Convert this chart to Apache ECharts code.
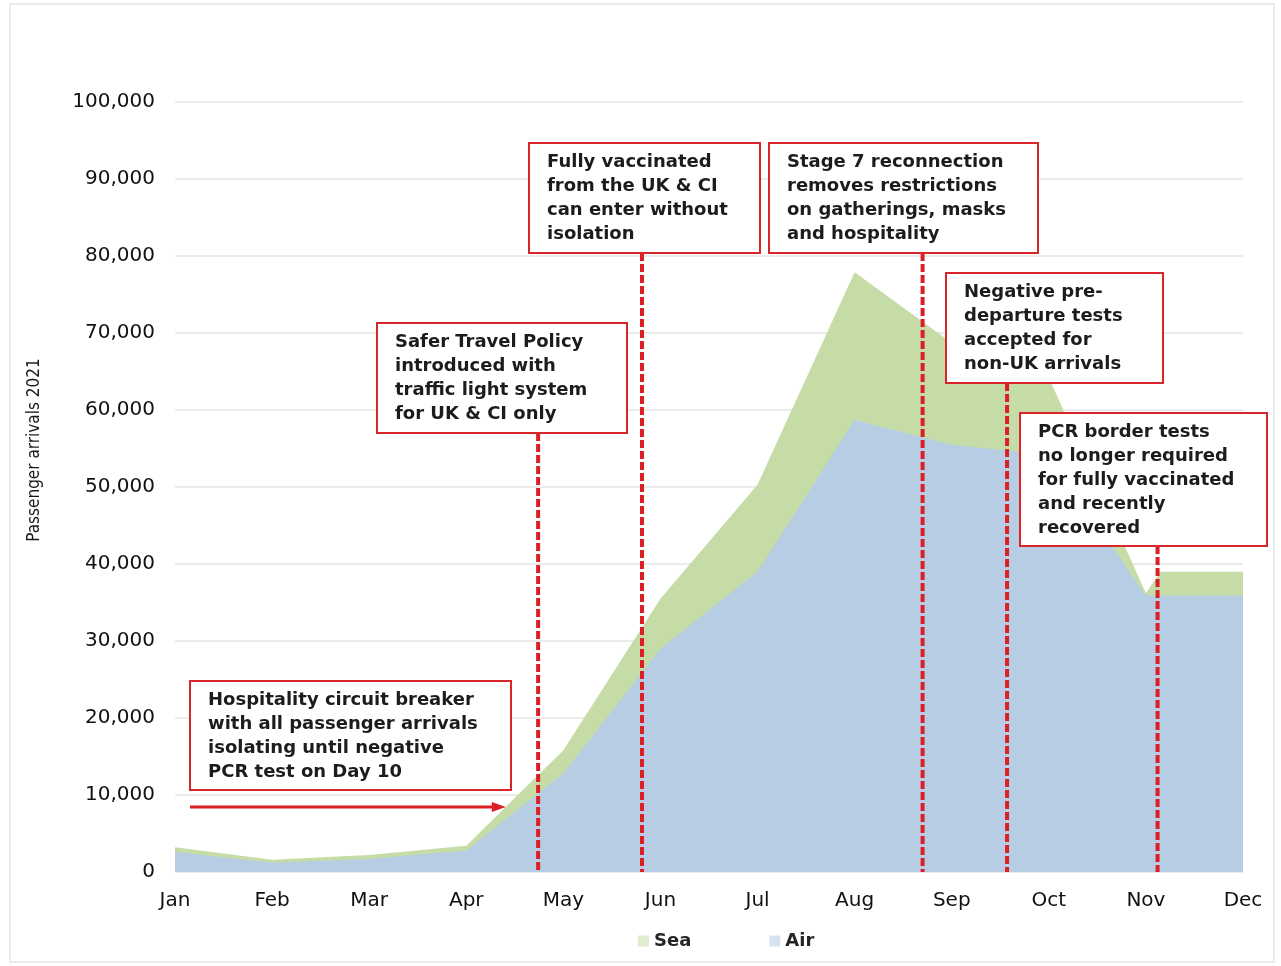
<!DOCTYPE html>
<html>
<head>
<meta charset="utf-8">
<title>Passenger arrivals 2021</title>
<script src="https://cdn.jsdelivr.net/npm/echarts@6/dist/echarts.min.js"></script>
<style>
  html, body { margin: 0; padding: 0; background: #ffffff; }
  #chart { width: 1281px; height: 966px; }
</style>
</head>
<body>
<div id="chart"></div>
<script>
// Month labels along the x axis (one per position 0..11)
const months = ['Jan', 'Feb', 'Mar', 'Apr', 'May', 'Jun', 'Jul', 'Aug', 'Sep', 'Oct', 'Nov', 'Dec'];

// Sample positions in months from Jan (0) to Dec (11); 10.15 marks the mid-November step
const samplePos = [0, 1, 2, 3, 4, 5, 6, 7, 8, 9, 10, 10.15, 11];

// Passenger arrivals by air and by sea
const airArrivals = [2600, 1200, 1700, 2800, 12800, 29000, 39000, 58700, 55500, 54200, 35900, 35900, 35900];
const seaArrivals = [600, 400, 500, 600, 3000, 6500, 11300, 19200, 13200, 10000, 300, 3100, 3100];

// Y axis ticks
const yTicks = [0, 10000, 20000, 30000, 40000, 50000, 60000, 70000, 80000, 90000, 100000];

// Policy events: when they happened (months from Jan) and their notes
const eventMonths = [3.74, 4.81, 7.70, 8.57, 10.12];
const eventNotes = [
  ['Safer Travel Policy', 'introduced with', 'traffic light system', 'for UK & CI only'],
  ['Fully vaccinated', 'from the UK & CI', 'can enter without', 'isolation'],
  ['Stage 7 reconnection', 'removes restrictions', 'on gatherings, masks', 'and hospitality'],
  ['Negative pre-', 'departure tests', 'accepted for', 'non-UK arrivals'],
  ['PCR border tests', 'no longer required', 'for fully vaccinated', 'and recently', 'recovered']
];
const circuitBreakerNote = ['Hospitality circuit breaker', 'with all passenger arrivals', 'isolating until negative', 'PCR test on Day 10'];

const RED = '#dc1f24';
const BOX_RED = '#d8262b';
const TEXT = '#1c1c1c';
const NOTE_FONT = 'bold 18px "DejaVu Sans", Verdana, sans-serif';
const AXIS_FONT = '"DejaVu Sans", Verdana, sans-serif';
const AIR_COLOR = '#b7cde4';
const SEA_COLOR = '#c6dca6';

const chart = echarts.init(document.getElementById('chart'), null, { renderer: 'canvas' });

// Air sits at the bottom; sea is stacked on top of it (running total drawn behind air)
const airPairs = airArrivals.map((v, i) => [samplePos[i], v]);
const seaTopPairs = seaArrivals.map((v, i) => [samplePos[i], airArrivals[i] + v]);

chart.setOption({
  animation: false,
  backgroundColor: '#ffffff',
  grid: { left: 175, right: 38, top: 102, bottom: 94, containLabel: false },
  legend: {
    data: [
      { name: 'Sea', itemStyle: { opacity: 0.55 } },
      { name: 'Air', itemStyle: { opacity: 0.55 } }
    ],
    left: 633,
    top: 927,
    icon: 'rect',
    itemWidth: 11,
    itemHeight: 11,
    itemGap: 78,
    textStyle: { fontFamily: AXIS_FONT, fontWeight: 'bold', fontSize: 18, color: '#262626' }
  },
  xAxis: {
    type: 'value',
    min: 0,
    max: 11,
    interval: 1,
    axisLine: { show: false },
    axisTick: { show: false },
    splitLine: { show: false },
    axisLabel: {
      margin: 19,
      fontFamily: AXIS_FONT,
      fontSize: 20,
      color: '#111',
      formatter: v => months[v] || ''
    }
  },
  yAxis: {
    type: 'value',
    min: yTicks[0],
    max: yTicks[yTicks.length - 1],
    interval: yTicks[1] - yTicks[0],
    axisLine: { show: false },
    axisTick: { show: false },
    axisLabel: {
      margin: 20,
      fontFamily: AXIS_FONT,
      fontSize: 20,
      color: '#111',
      formatter: v => v.toLocaleString('en-US')
    },
    splitLine: { lineStyle: { color: '#ebebeb', width: 2 } }
  },
  series: [
    {
      name: 'Sea',
      type: 'line',
      data: seaTopPairs,
      showSymbol: false,
      lineStyle: { width: 0 },
      itemStyle: { color: SEA_COLOR },
      areaStyle: { color: SEA_COLOR, opacity: 1, origin: 'start' },
      z: 2
    },
    {
      name: 'Air',
      type: 'line',
      data: airPairs,
      showSymbol: false,
      lineStyle: { width: 0 },
      itemStyle: { color: AIR_COLOR },
      areaStyle: { color: AIR_COLOR, opacity: 1, origin: 'start' },
      z: 3
    }
  ]
});

// Note boxes (pixel layout): one per policy event, in the same order as eventNotes
const noteBoxes = [
  { x: 377, y: 323, w: 250, h: 110 },
  { x: 529, y: 143, w: 231, h: 110 },
  { x: 769, y: 143, w: 269, h: 110 },
  { x: 946, y: 273, w: 217, h: 110 },
  { x: 1020, y: 413, w: 247, h: 133 }
];
const circuitBox = { x: 190, y: 681, w: 321, h: 109 };

function noteBox(box, lines) {
  return [
    {
      type: 'rect',
      shape: { x: box.x, y: box.y, width: box.w, height: box.h },
      style: { fill: '#ffffff', stroke: BOX_RED, lineWidth: 2 },
      z: 20
    },
    {
      type: 'text',
      x: box.x + 18,
      y: box.y + 7,
      style: {
        text: lines.join('\n'),
        font: NOTE_FONT,
        fill: TEXT,
        lineHeight: 24,
        verticalAlign: 'top',
        align: 'left'
      },
      z: 21
    }
  ];
}

function buildGraphics() {
  const baseY = chart.convertToPixel({ gridIndex: 0 }, [0, 0])[1];
  const elements = [];

  // Vertical y-axis title
  elements.push({
    type: 'text',
    x: 35,
    y: 450,
    rotation: Math.PI / 2,
    style: {
      text: 'Passenger arrivals 2021',
      font: '17px "DejaVu Sans Condensed", "Liberation Sans", sans-serif',
      fill: '#1a1a1a',
      align: 'center',
      verticalAlign: 'middle'
    },
    z: 5
  });

  // Dashed event markers from the bottom of each note box down to the axis
  eventMonths.forEach((m, i) => {
    const px = chart.convertToPixel({ gridIndex: 0 }, [m, 0])[0];
    const top = noteBoxes[i].y + noteBoxes[i].h;
    elements.push({
      type: 'line',
      shape: { x1: px, y1: top, x2: px, y2: baseY },
      style: { stroke: RED, lineWidth: 4, lineDash: [8, 3] },
      z: 15
    });
  });

  noteBoxes.forEach((b, i) => elements.push(...noteBox(b, eventNotes[i])));
  elements.push(...noteBox(circuitBox, circuitBreakerNote));

  // Arrow pointing to the start of the spring rise
  const arrowEnd = chart.convertToPixel({ gridIndex: 0 }, [3.5, 0])[0] - 9;
  const arrowY = circuitBox.y + circuitBox.h + 17;
  elements.push({
    type: 'line',
    shape: { x1: circuitBox.x, y1: arrowY, x2: arrowEnd - 10, y2: arrowY },
    style: { stroke: RED, lineWidth: 3 },
    z: 15
  });
  elements.push({
    type: 'polygon',
    shape: { points: [[arrowEnd - 14, arrowY - 5], [arrowEnd, arrowY], [arrowEnd - 14, arrowY + 5]] },
    style: { fill: RED },
    z: 15
  });

  // Faint frame around the whole figure
  elements.push({
    type: 'rect',
    shape: { x: 10, y: 4, width: 1264, height: 958 },
    style: { fill: 'none', stroke: '#ececec', lineWidth: 2 },
    z: 0,
    silent: true
  });

  return elements;
}

chart.setOption({ graphic: buildGraphics() });
</script>
</body>
</html>
